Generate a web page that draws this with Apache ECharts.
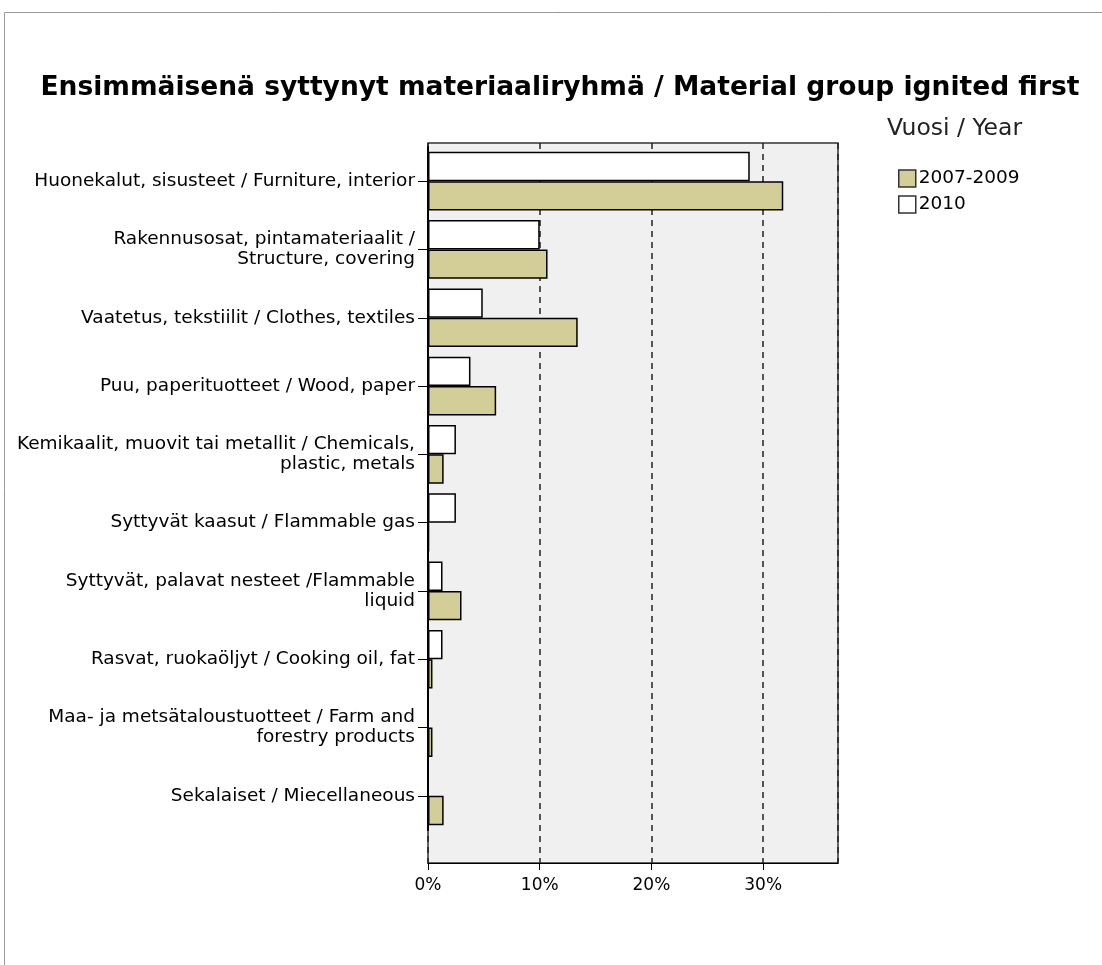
<!DOCTYPE html>
<html>
<head>
<meta charset="utf-8">
<script src="https://cdn.jsdelivr.net/npm/echarts@6/dist/echarts.min.js"></script>
<style>
  html, body { margin: 0; padding: 0; background: #fff; }
  #chart { width: 1102px; height: 965px; }
</style>
</head>
<body>
<div id="chart"></div>
<script>
// categories, top to bottom
const categories = [
  'Huonekalut, sisusteet / Furniture, interior',
  'Rakennusosat, pintamateriaalit /\nStructure, covering',
  'Vaatetus, tekstiilit / Clothes, textiles',
  'Puu, paperituotteet / Wood, paper',
  'Kemikaalit, muovit tai metallit / Chemicals,\nplastic, metals',
  'Syttyvät kaasut / Flammable gas',
  'Syttyvät, palavat nesteet /Flammable\nliquid',
  'Rasvat, ruokaöljyt / Cooking oil, fat',
  'Maa- ja metsätaloustuotteet / Farm and\nforestry products',
  'Sekalaiset / Miecellaneous'
];
// percent values
const years2007to2009 = [31.8, 10.7, 13.4, 6.1, 1.4, 0.1, 3.0, 0.4, 0.4, 1.4];
const year2010 = [28.8, 10.0, 4.9, 3.8, 2.5, 2.5, 1.3, 1.3, 0, 0];
const xTicks = [0, 10, 20, 30];

const font = 'DejaVu Sans, sans-serif';
const xMax = 36.7;
var myChart = echarts.init(document.getElementById('chart'));

myChart.setOption({
  animation: false,
  title: {
    text: 'Ensimmäisenä syttynyt materiaaliryhmä / Material group ignited first',
    left: 555,
    textAlign: 'center',
    top: 70,
    textStyle: { fontFamily: font, fontSize: 26.5, fontWeight: 'bold', color: '#000' }
  },
  graphic: [
    {
      type: 'rect',
      shape: { x: 4.5, y: 12.5, width: 1110, height: 980 },
      style: { fill: 'none', stroke: '#999', lineWidth: 1 },
      silent: true
    },
    {
      type: 'text',
      left: 887,
      top: 117,
      style: { text: 'Vuosi / Year', font: '23.5px ' + font, fill: '#222' }
    }
  ],
  legend: {
    orient: 'vertical',
    left: 893,
    top: 164,
    itemWidth: 17,
    itemHeight: 17,
    itemGap: 7,
    icon: 'rect',
    data: ['2007-2009', '2010'],
    itemStyle: { borderColor: '#333', borderWidth: 1.5 },
    textStyle: { fontFamily: font, fontSize: 18.5, color: '#000', padding: [0, 0, 0, -2] }
  },
  grid: [
    // bars
    { left: 428, right: 264, top: 147, bottom: 135 },
    // frame, background, x axis
    {
      left: 428, right: 264, top: 143, bottom: 102,
      show: true, backgroundColor: '#f0f0f0', borderColor: '#333', borderWidth: 1.5
    }
  ],
  xAxis: [
    { gridIndex: 0, type: 'value', min: 0, max: xMax, show: false },
    {
      gridIndex: 1,
      type: 'value',
      min: 0,
      max: xMax,
      interval: 10,
      axisLine: { show: true, lineStyle: { color: '#000' } },
      axisTick: { show: true, length: 7, lineStyle: { color: '#000' } },
      axisLabel: {
        showMaxLabel: false,
        formatter: v => xTicks.indexOf(v) >= 0 ? v + '%' : '',
        fontFamily: font, fontSize: 17, color: '#000', margin: 14
      },
      splitLine: { show: true, lineStyle: { color: '#222', type: [6, 5], width: 1.5 } }
    }
  ],
  yAxis: [
    {
      gridIndex: 0,
      type: 'category',
      inverse: true,
      data: categories,
      axisLine: { show: true, lineStyle: { color: '#000', width: 2 } },
      axisTick: { show: true, alignWithLabel: true, length: 10, lineStyle: { color: '#000' } },
      axisLabel: { fontFamily: font, fontSize: 18.5, color: '#000', margin: 13, lineHeight: 20, padding: [4, 0, 0, 0] }
    },
    { gridIndex: 1, type: 'value', show: false }
  ],
  series: [
    {
      name: '2010',
      type: 'bar',
      xAxisIndex: 0,
      yAxisIndex: 0,
      data: year2010,
      barCategoryGap: '14%',
      barGap: '0%',
      itemStyle: { color: '#ffffff', borderColor: '#000', borderWidth: 1.5 }
    },
    {
      name: '2007-2009',
      type: 'bar',
      xAxisIndex: 0,
      yAxisIndex: 0,
      data: years2007to2009,
      itemStyle: { color: '#d3cd97', borderColor: '#000', borderWidth: 1.5 }
    }
  ]
});
</script>
</body>
</html>
